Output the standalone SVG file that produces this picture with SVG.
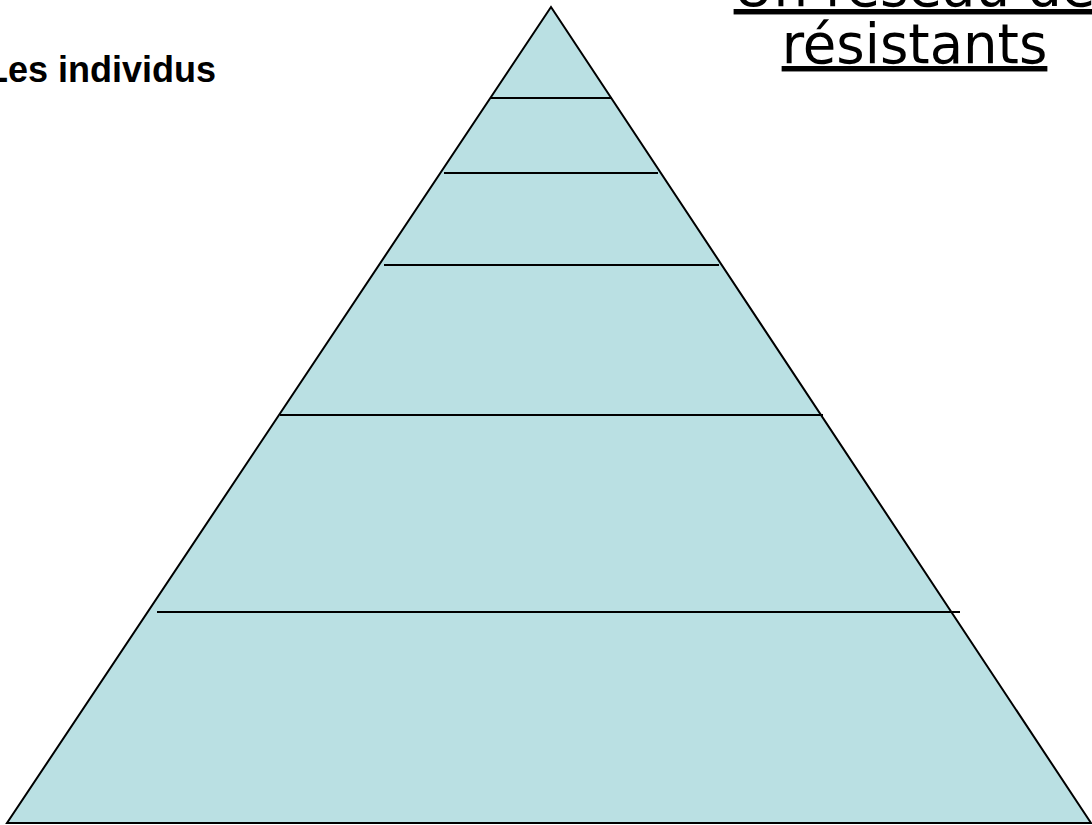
<svg xmlns="http://www.w3.org/2000/svg" width="1092" height="825" viewBox="0 0 1092 825">
<style>
.ln{stroke:#000;stroke-width:2;fill:none}
.t1{font-family:"Liberation Sans",Arial,sans-serif;font-weight:bold;font-size:36px;fill:#000}
.t2{font-family:"DejaVu Sans",sans-serif;font-size:54.5px;fill:#000;text-decoration:underline}
</style>
<rect width="1092" height="825" fill="#fff"/>
<g id="pyramid">
<polygon points="551,7 7,823 1091,823" fill="#BAE0E3" stroke="#000" stroke-width="2"/>
</g>
<g id="levels">
<line class="ln" x1="490" y1="98" x2="612" y2="98"/>
<line class="ln" x1="444" y1="173" x2="658" y2="173"/>
<line class="ln" x1="384" y1="265" x2="719" y2="265"/>
<line class="ln" x1="280" y1="415" x2="823" y2="415"/>
<line class="ln" x1="157" y1="612" x2="960" y2="612"/>
</g>
<g id="label-individus">
<text class="t1" x="-14" y="82">Les individus</text>
</g>
<g id="label-reseau">
<text class="t2" x="914.5" y="6" text-anchor="middle">Un réseau de</text>
<text class="t2" x="914.5" y="63" text-anchor="middle">résistants</text>
</g>
</svg>
